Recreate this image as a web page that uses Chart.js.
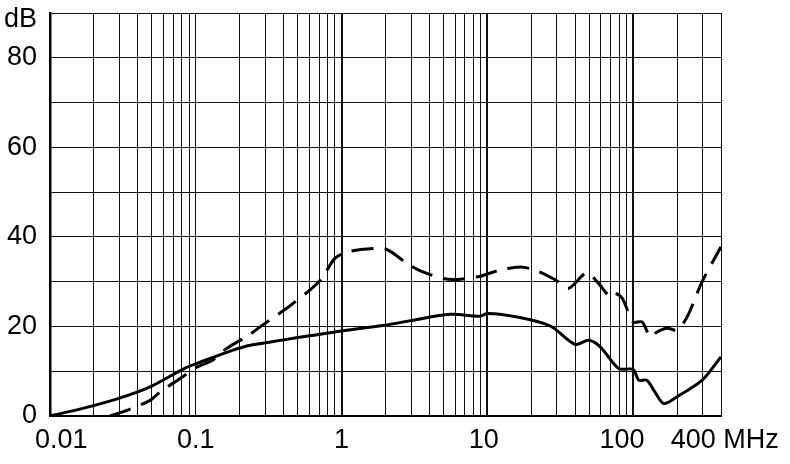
<!DOCTYPE html>
<html>
<head>
<meta charset="utf-8">
<script src="https://cdn.jsdelivr.net/npm/chart.js@4/dist/chart.umd.min.js"></script>
<style>
  html, body { margin: 0; padding: 0; background: #fff; }
  canvas { display: block; }
</style>
</head>
<body>
<canvas id="atten-chart" width="790" height="464"></canvas>
<script>
// Frequency (MHz) and attenuation (dB)
const solidFreq = [0.01, 0.0168, 0.03, 0.0486, 0.0845, 0.107, 0.18, 0.236, 0.4, 0.6, 1, 1.92, 3, 5.56, 8.9, 10, 16, 27, 40, 49.5, 59.6, 79.5, 100, 109, 124, 140, 162, 200, 297, 400];
const solidDb   = [0, 1.7, 4, 6.5, 10.7, 12, 14.7, 15.8, 17, 17.9, 19, 20.2, 21.3, 22.7, 22.3, 22.9, 22.1, 20.1, 16, 16.9, 15.4, 10.6, 10.4, 8, 8, 5.5, 2.8, 4.3, 8, 13.2];

const dashFreq = [0.0258, 0.034, 0.0486, 0.057, 0.08, 0.099, 0.131, 0.163, 0.23, 0.276, 0.45, 0.625, 0.73, 0.9, 1.11, 1.65, 2.04, 2.8, 3.47, 5, 6.2, 8.9, 11.6, 16.8, 21.9, 30, 36, 48, 56.5, 69.7, 75, 84, 100, 115, 131, 146, 171, 200, 234, 297, 400];
const dashDb   = [0, 1.3, 3.5, 5.4, 8.6, 10.7, 12.5, 15.1, 18, 19.9, 24.8, 28.5, 30.7, 35.2, 36.7, 37.4, 37.2, 34.1, 32.4, 30.7, 30.5, 31.2, 32.4, 33.3, 32.4, 30.2, 28.5, 32, 30, 26.6, 27.4, 26.3, 21, 21, 17.7, 18.8, 19.6, 19.2, 22.1, 30, 37.8];

// grid positions on the log axis and which of them get a label
const xGrid = [0.01, 0.02, 0.03, 0.04, 0.05, 0.06, 0.07, 0.08, 0.09,
               0.1, 0.2, 0.3, 0.4, 0.5, 0.6, 0.7, 0.8, 0.9,
               1, 2, 3, 4, 5, 6, 7, 8, 9,
               10, 20, 30, 40, 50, 60, 70, 80, 90,
               100, 200, 300, 400];
// spaces nudge the labels off-centre the way the original is set
const xLabels = { 0.01: '   0.01', 0.1: '0.1', 1: '1', 10: '10 ', 100: '100   ', 400: ' 400 MHz' };
const yLabels = { 0: '0', 20: '20', 40: '40', 60: '60', 80: '80', 90: ['', 'dB'] };

const toPoints = (xs, ys) => xs.map((x, i) => ({ x, y: ys[i] }));

const font = { family: '"Liberation Sans", Arial, sans-serif', size: 27 };

new Chart(document.getElementById('atten-chart').getContext('2d'), {
  type: 'scatter',
  data: {
    datasets: [
      {
        label: 'solid',
        data: toPoints(solidFreq, solidDb),
        showLine: true,
        borderColor: '#000',
        borderWidth: 3,
        pointRadius: 0,
        tension: 0.3
      },
      {
        label: 'dashed',
        data: toPoints(dashFreq, dashDb),
        showLine: true,
        borderColor: '#000',
        borderWidth: 3,
        borderDash: [22, 11],
        pointRadius: 0,
        tension: 0.3
      }
    ]
  },
  options: {
    responsive: false,
    animation: false,
    layout: { padding: { top: 0, right: 69, left: 0, bottom: 0 } },
    plugins: { legend: { display: false }, tooltip: { enabled: false } },
    scales: {
      x: {
        type: 'logarithmic',
        min: 0.01,
        max: 400,
        afterBuildTicks: axis => { axis.ticks = xGrid.map(v => ({ value: v })); },
        afterFit: axis => { axis.height = 48; },
        ticks: {
          autoSkip: false,
          maxRotation: 0,
          padding: 8,
          color: '#000',
          font,
          callback: v => xLabels[v] || ''
        },
        grid: {
          color: '#111',
          drawTicks: false,
          lineWidth: ctx => ([1, 10, 100].includes(ctx.tick && ctx.tick.value) ? 2 : 1)
        },
        border: { color: '#000', width: 2 }
      },
      y: {
        min: 0,
        max: 90,
        afterBuildTicks: axis => {
          axis.ticks = [0, 10, 20, 30, 40, 50, 60, 70, 80, 90].map(v => ({ value: v }));
        },
        afterFit: axis => { axis.width = 50; axis.paddingTop = 13; },
        ticks: {
          autoSkip: false,
          padding: 13,
          color: '#000',
          font: ctx => (ctx.tick && ctx.tick.value === 90 ? { ...font, lineHeight: 0.5 } : font),
          callback: v => (v in yLabels ? yLabels[v] : '')
        },
        grid: { color: '#111', lineWidth: 1, drawTicks: false },
        border: { color: '#000', width: 2.5 }
      }
    }
  }
});
</script>
</body>
</html>
